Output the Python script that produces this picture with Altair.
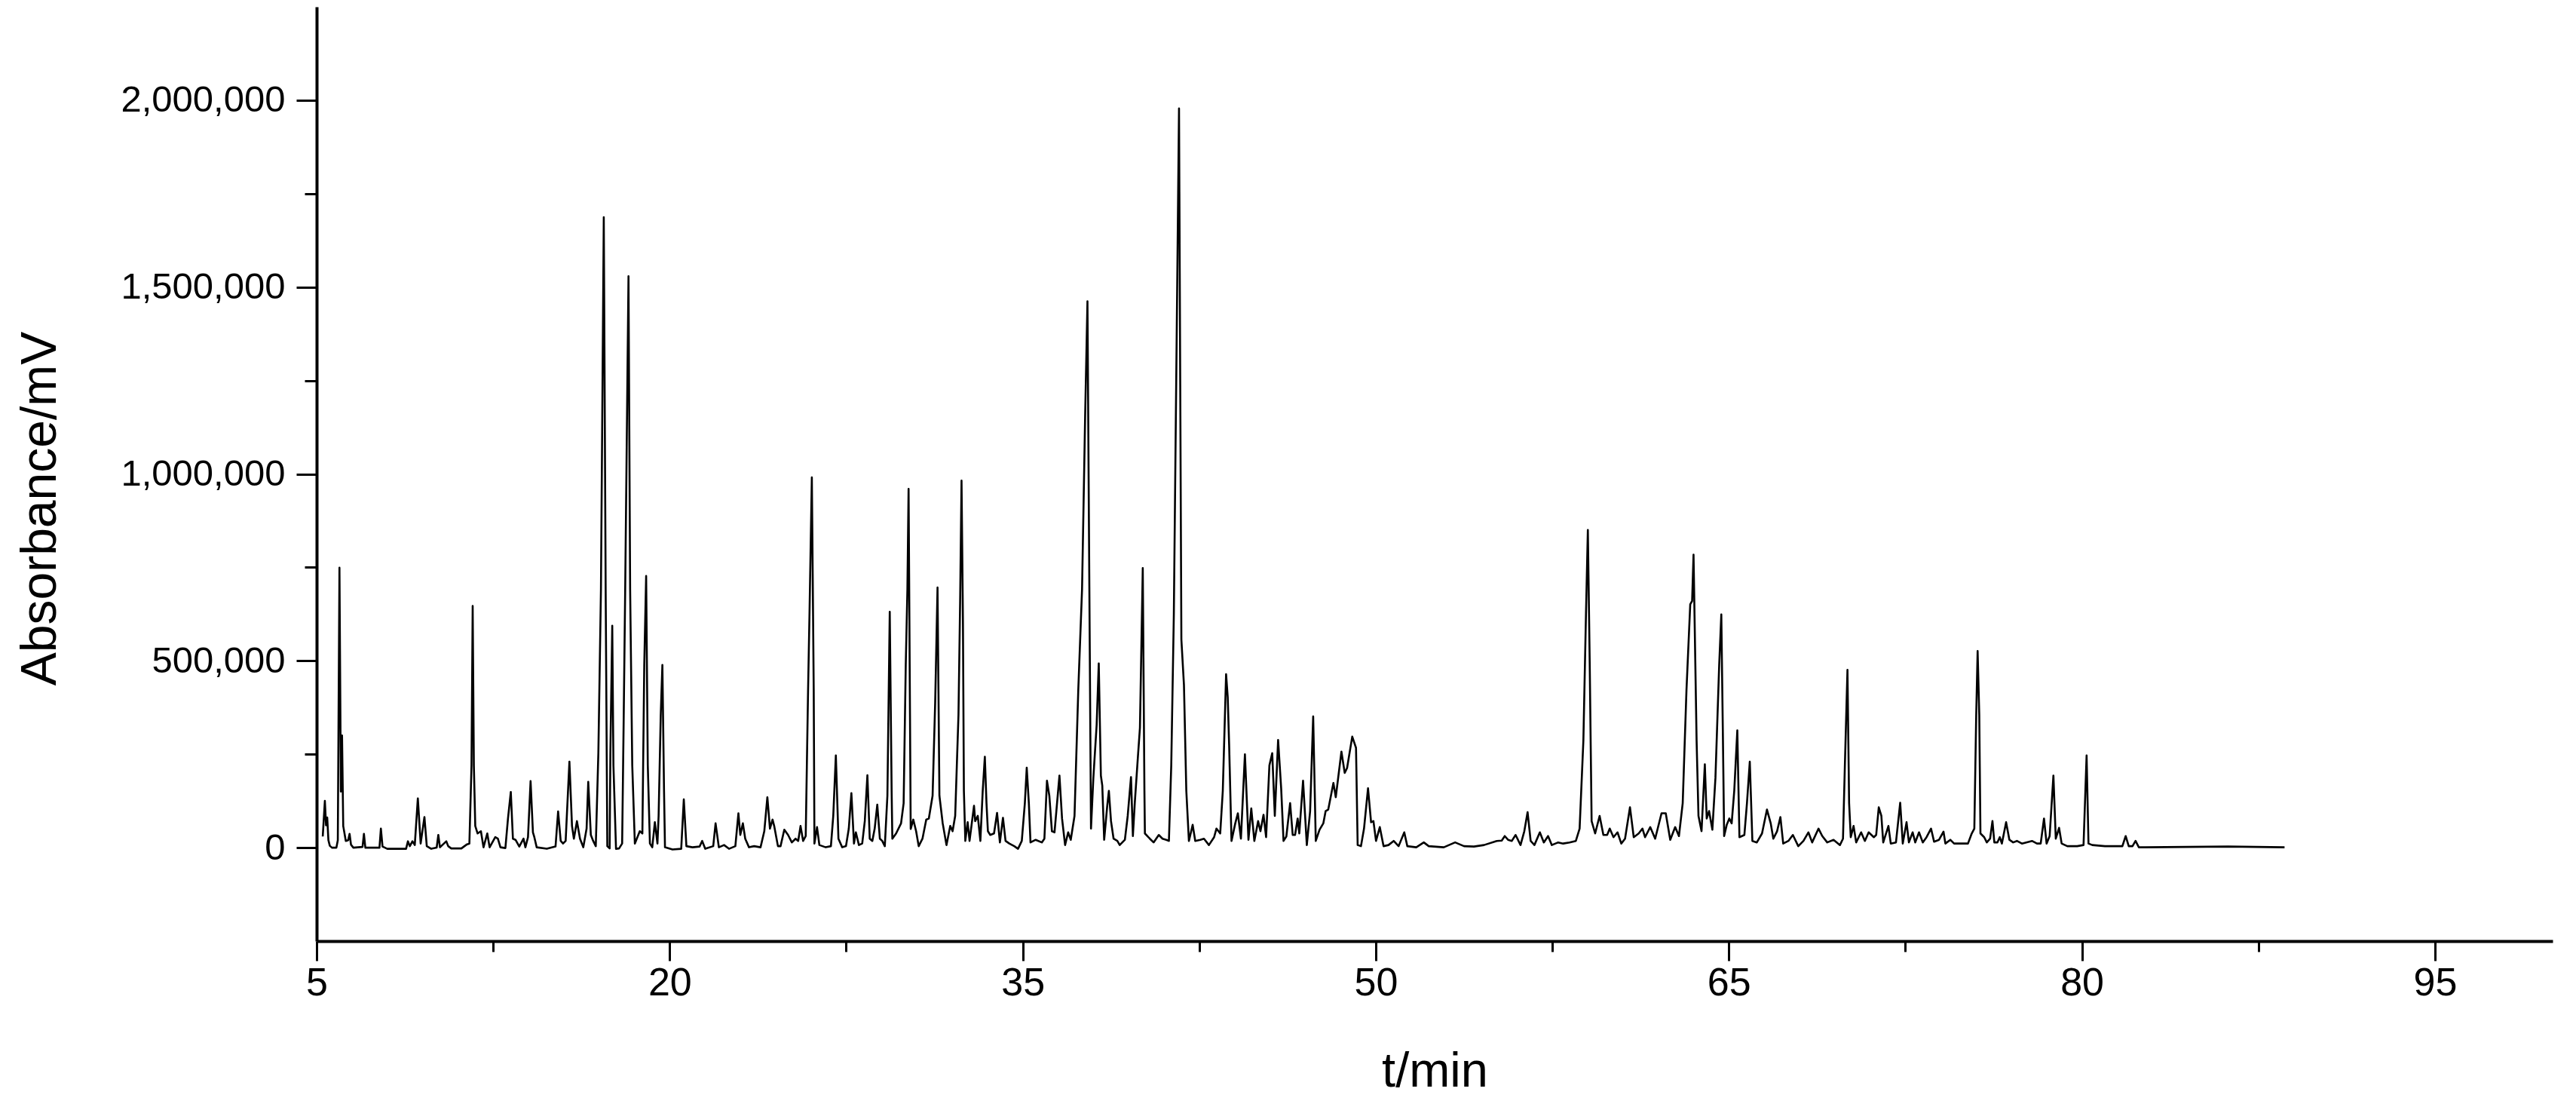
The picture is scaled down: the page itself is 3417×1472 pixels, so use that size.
import altair as alt
import pandas as pd

# Chromatogram trace: (retention time in min, absorbance in thousands)
seg_05_12 = [
    (5.26, 30), (5.35, 125), (5.40, 60), (5.45, 81), (5.50, 20), (5.56, 5), (5.65, 0), (5.84, 0),
    (5.90, 20), (5.97, 749), (6.03, 150), (6.08, 300), (6.13, 58), (6.24, 18), (6.34, 20), (6.40, 37),
    (6.46, 8), (6.56, 0), (6.95, 2), (7.01, 37), (7.07, 0), (7.67, 0), (7.73, 51), (7.80, 3),
    (8.00, -3), (8.80, -3), (8.88, 17), (8.96, 4), (9.07, 17), (9.17, 7), (9.30, 132), (9.42, 11),
    (9.58, 82), (9.68, 4), (9.87, -3), (10.10, 0), (10.17, 34), (10.24, 1), (10.51, 17), (10.59, 4),
    (10.72, -2), (11.15, -2), (11.39, 9), (11.49, 11), (11.58, 220), (11.63, 647), (11.68, 220),
    (11.74, 58), (11.84, 38), (11.98, 44), (12.09, 1), (12.25, 38), (12.35, 1),
]
seg_12_20 = [
    (12.59, 28), (12.70, 24), (12.81, 1), (13.02, -1), (13.13, 78), (13.25, 149), (13.34, 24),
    (13.45, 21), (13.61, 3), (13.79, 24), (13.87, 1), (13.98, 28), (14.09, 178), (14.19, 41),
    (14.25, 28), (14.35, 1), (14.78, -3), (15.15, 3), (15.26, 97), (15.37, 18), (15.47, 11),
    (15.58, 18), (15.74, 230), (15.85, 58), (15.93, 24), (16.06, 71), (16.19, 24), (16.33, 1),
    (16.47, 51), (16.54, 176), (16.65, 34), (16.75, 18), (16.86, 4), (16.97, 253), (17.08, 691),
    (17.20, 1687), (17.28, 691), (17.35, 4), (17.45, -2), (17.48, 253), (17.56, 594), (17.61, 220),
    (17.72, -3), (17.85, -2), (17.98, 11), (18.04, 314), (18.11, 691), (18.25, 1529), (18.32, 691),
    (18.41, 220), (18.52, 11), (18.73, 44), (18.84, 38), (18.92, 489), (19.00, 727), (19.07, 220),
    (19.16, 11), (19.26, 1), (19.37, 68), (19.48, 11), (19.53, 85), (19.62, 355), (19.69, 489),
    (19.76, 152), (19.80, 1),
]
seg_20_33 = [
    (20.12, -5), (20.49, -3), (20.60, 129), (20.71, 4), (20.97, 1), (21.27, 3), (21.38, 18),
    (21.51, -3), (21.85, 4), (21.95, 65), (22.09, 1), (22.31, 7), (22.52, -3), (22.79, 4),
    (22.92, 92), (23.00, 34), (23.11, 65), (23.21, 24), (23.37, 1), (23.59, 4), (23.86, 1),
    (24.02, 44), (24.15, 135), (24.26, 51), (24.37, 75), (24.44, 58), (24.60, 4), (24.71, 4),
    (24.87, 48), (25.03, 34), (25.19, 14), (25.35, 24), (25.46, 18), (25.56, 58), (25.67, 18),
    (25.78, 31), (25.88, 422), (25.94, 624), (26.04, 991), (26.12, 422), (26.15, 11), (26.26, 55),
    (26.36, 7), (26.63, 1), (26.85, 4), (26.95, 85), (27.06, 247), (27.17, 24), (27.33, 1),
    (27.49, 4), (27.61, 51), (27.72, 146), (27.83, 11), (27.91, 41), (28.04, 7), (28.18, 11),
    (28.29, 71), (28.40, 194), (28.50, 24), (28.61, 18), (28.71, 51), (28.82, 115), (28.93, 24),
    (29.03, 18), (29.14, 4), (29.25, 139), (29.35, 631), (29.43, 152), (29.46, 24), (29.62, 38),
    (29.83, 65), (29.94, 119), (30.03, 489), (30.10, 691), (30.15, 960), (30.21, 355), (30.24, 50),
    (30.35, 75), (30.47, 44), (30.58, 4), (30.74, 24), (30.90, 75), (31.01, 78), (31.17, 139),
    (31.28, 388), (31.38, 696), (31.46, 139), (31.60, 65), (31.76, 7), (31.92, 58), (32.02, 44),
    (32.13, 85), (32.27, 355), (32.34, 658), (32.40, 982), (32.46, 600), (32.50, 152), (32.56, 18),
]
seg_33_46 = [
    (32.66, 68), (32.74, 18), (32.93, 112), (32.98, 71), (33.09, 85), (33.20, 18), (33.30, 152),
    (33.39, 243), (33.46, 119), (33.52, 44), (33.62, 34), (33.78, 38), (33.91, 93), (34.03, 14),
    (34.16, 80), (34.27, 18), (34.43, 11), (34.64, 4), (34.80, -3), (34.96, 18), (35.09, 119),
    (35.17, 214), (35.26, 119), (35.33, 14), (35.55, 21), (35.81, 14), (35.92, 24), (36.03, 179),
    (36.13, 139), (36.24, 44), (36.35, 41), (36.56, 193), (36.67, 78), (36.80, 7), (36.93, 41),
    (37.04, 21), (37.20, 85), (37.36, 422), (37.52, 691), (37.65, 1150), (37.75, 1462), (37.83, 700),
    (37.90, 51), (38.00, 186), (38.14, 328), (38.23, 493), (38.32, 193), (38.38, 166), (38.46, 21),
    (38.59, 112), (38.66, 152), (38.75, 71), (38.86, 24), (39.02, 18), (39.12, 7), (39.34, 21),
    (39.46, 85), (39.60, 189), (39.68, 31), (39.76, 119), (39.89, 240), (39.98, 321), (40.10, 748),
    (40.17, 152), (40.19, 38), (40.40, 24), (40.56, 14), (40.78, 34), (40.94, 24), (41.10, 21),
    (41.21, 18), (41.31, 220), (41.42, 624), (41.64, 1978), (41.74, 557), (41.85, 435), (41.95, 152),
    (42.06, 18), (42.22, 61), (42.33, 18), (42.54, 21), (42.70, 24), (42.91, 7), (43.13, 28),
    (43.23, 51), (43.39, 38), (43.50, 152), (43.64, 464), (43.71, 402), (43.77, 274), (43.87, 18),
    (44.03, 65), (44.14, 92), (44.27, 24), (44.44, 250), (44.59, 21), (44.71, 105), (44.84, 18),
    (45.00, 71), (45.10, 44), (45.23, 88), (45.34, 28), (45.48, 220), (45.60, 253), (45.71, 85),
    (45.85, 288), (45.98, 159), (46.08, 18),
]
seg_46_60 = [
    (46.20, 30), (46.36, 119), (46.47, 34), (46.57, 34), (46.68, 78), (46.75, 38), (46.91, 179),
    (47.07, 7), (47.21, 98), (47.34, 351), (47.45, 18), (47.61, 48), (47.77, 65), (47.87, 98),
    (47.98, 102), (48.20, 173), (48.30, 135), (48.54, 257), (48.68, 200), (48.78, 213), (49.00, 297),
    (49.16, 267), (49.23, 7), (49.37, 4), (49.50, 51), (49.67, 159), (49.80, 68), (49.90, 71),
    (50.01, 18), (50.17, 55), (50.33, 4), (50.54, 7), (50.76, 18), (50.97, 4), (51.21, 41),
    (51.34, 4), (51.72, 1), (52.04, 14), (52.25, 4), (52.89, 1), (53.37, 14), (53.75, 4), (54.17, 3),
    (54.60, 7), (55.14, 18), (55.35, 19), (55.48, 31), (55.62, 21), (55.78, 18), (55.94, 34),
    (56.15, 7), (56.31, 44), (56.45, 95), (56.58, 18), (56.74, 7), (56.97, 41), (57.14, 14),
    (57.32, 31), (57.48, 7), (57.75, 14), (57.96, 11), (58.23, 14), (58.50, 18), (58.66, 51),
    (58.82, 287), (58.93, 624), (59.01, 850), (59.09, 489), (59.17, 71), (59.32, 38), (59.51, 85),
    (59.67, 34), (59.83, 34), (59.94, 51),
]
seg_60_74 = [
    (60.10, 28), (60.27, 41), (60.43, 11), (60.59, 24), (60.80, 108), (60.96, 28), (61.17, 38),
    (61.33, 51), (61.44, 28), (61.66, 55), (61.87, 24), (62.14, 92), (62.32, 92), (62.51, 21),
    (62.72, 55), (62.88, 31), (63.04, 119), (63.20, 422), (63.36, 651), (63.44, 660), (63.50, 784),
    (63.63, 287), (63.71, 85), (63.84, 44), (63.98, 223), (64.06, 78), (64.16, 98), (64.30, 48),
    (64.43, 186), (64.59, 489), (64.68, 624), (64.75, 287), (64.80, 31), (64.91, 61), (65.02, 78),
    (65.12, 65), (65.23, 152), (65.36, 314), (65.45, 28), (65.66, 34), (65.77, 119), (65.89, 230),
    (66.00, 18), (66.19, 14), (66.41, 38), (66.62, 102), (66.78, 65), (66.89, 24), (67.05, 44),
    (67.19, 82), (67.31, 11), (67.53, 18), (67.72, 34), (67.95, 4), (68.17, 18), (68.38, 41),
    (68.54, 14), (68.81, 51), (68.97, 31), (69.18, 14), (69.45, 21), (69.72, 7), (69.85, 24),
    (69.93, 220), (70.04, 476), (70.11, 119), (70.18, 28), (70.30, 58), (70.41, 14), (70.62, 41),
    (70.78, 18), (70.94, 41), (71.16, 28), (71.26, 34), (71.37, 108), (71.48, 85), (71.56, 14),
    (71.78, 58), (71.88, 11), (72.10, 14), (72.28, 120), (72.39, 11), (72.55, 68), (72.65, 14),
    (72.81, 41), (72.92, 14), (73.08, 41), (73.24, 14), (73.40, 28), (73.59, 51),
]
seg_74_89 = [
    (73.72, 16), (73.93, 21), (74.12, 43), (74.20, 11), (74.41, 21), (74.57, 11), (74.89, 11),
    (75.16, 11), (75.32, 38), (75.43, 51), (75.51, 355), (75.57, 526), (75.64, 355), (75.69, 38),
    (75.85, 28), (75.96, 14), (76.10, 24), (76.20, 71), (76.28, 14), (76.41, 14), (76.51, 28),
    (76.60, 11), (76.78, 68), (76.92, 21), (77.08, 14), (77.24, 18), (77.45, 11), (77.88, 18),
    (78.09, 11), (78.25, 11), (78.39, 78), (78.50, 11), (78.63, 31), (78.79, 193), (78.89, 24),
    (79.03, 53), (79.14, 11), (79.38, 4), (79.80, 4), (80.07, 7), (80.20, 247), (80.28, 11),
    (80.44, 7), (80.98, 4), (81.72, 4), (81.86, 31), (81.99, 4), (82.15, 4), (82.28, 18), (82.42, 1),
    (82.69, 1), (86.21, 3), (88.61, 1),
]

segments = [seg_05_12, seg_12_20, seg_20_33, seg_33_46, seg_46_60, seg_60_74, seg_74_89]

x_major = [5, 20, 35, 50, 65, 80, 95]
x_minor = [12.5, 27.5, 42.5, 57.5, 72.5, 87.5]
y_major = [0, 500000, 1000000, 1500000, 2000000]
y_minor = [250000, 750000, 1250000, 1750000]
x_domain = [5, 100]
y_domain = [-250000, 2250000]

rows = [(t, a * 1000) for seg in segments for (t, a) in seg]
df = pd.DataFrame(rows, columns=["t", "absorbance"])

FONT = "Liberation Sans"

x_axis = alt.Axis(
    values=sorted(x_major + x_minor),
    title="t/min",
    grid=False,
    domainColor="black",
    domainWidth=4,
    tickColor="black",
    tickWidth=3,
    tickSize={"condition": {"test": "datum.value % 15 === 5", "value": 26}, "value": 14},
    labelExpr="datum.value % 15 === 5 ? datum.label : ''",
    format="d",
    labelFont=FONT,
    labelFontSize=52,
    labelColor="black",
    labelPadding=4,
    labelFlush=False,
    labelOverlap=False,
    labelLimit=0,
    titleFont=FONT,
    titleFontSize=65,
    titleFontWeight="normal",
    titleColor="black",
    titleX=1483,
    titleY=192,
    titleAlign="center",
    titleBaseline="alphabetic",
)

y_axis = alt.Axis(
    values=sorted(y_major + y_minor),
    title="Absorbance/mV",
    grid=False,
    domainColor="black",
    domainWidth=4,
    tickColor="black",
    tickWidth=3,
    tickSize={"condition": {"test": "datum.value % 500000 === 0", "value": 27}, "value": 16},
    labelExpr="datum.value % 500000 === 0 ? format(datum.value, ',') : ''",
    labelFont=FONT,
    labelFontSize=49,
    labelColor="black",
    labelPadding=15,
    labelFlush=False,
    labelOverlap=False,
    labelLimit=0,
    titleFont=FONT,
    titleFontSize=66,
    titleFontWeight="normal",
    titleColor="black",
    titleAngle=270,
    titleX=-367,
    titleY=665,
    titleAlign="center",
    titleBaseline="middle",
    titleLimit=0,
)

chart = (
    alt.Chart(df)
    .mark_line(color="black", strokeWidth=2.6, strokeJoin="round")
    .encode(
        x=alt.X("t:Q", scale=alt.Scale(domain=x_domain, nice=False, zero=False), axis=x_axis),
        y=alt.Y("absorbance:Q", scale=alt.Scale(domain=y_domain, nice=False), axis=y_axis),
    )
    .properties(
        width=2966,
        height=1239,
        autosize=alt.AutoSizeParams(type="none"),
        padding={"left": 412, "top": 1, "right": 15, "bottom": 214},
        background="white",
    )
    .configure_view(stroke=None)
)

chart.save("out.html", embed_options={"renderer": "svg", "actions": False})
